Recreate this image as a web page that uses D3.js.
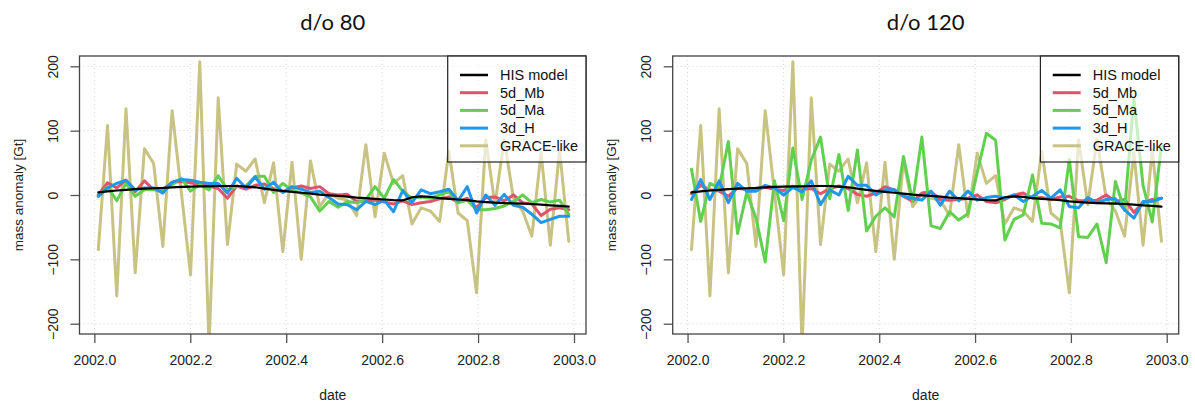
<!DOCTYPE html>
<html>
<head>
<meta charset="utf-8">
<script src="https://cdn.jsdelivr.net/npm/d3@7"></script>
<style>
  html, body { margin: 0; padding: 0; background: #fff; }
  svg { display: block; }
  text { font-family: "Liberation Sans", Arial, sans-serif; }
</style>
</head>
<body>
<svg id="chart" width="1195" height="403"></svg>
<script>
// Weekly sample index (52 weeks of 2002); dates are decimal years
const weeks = d3.range(52);
const dates = weeks.map(i => 2002 + (3 + 7.02 * i) / 365);

// Shared series: reference model and GRACE-like solution
const hisModel = [4, 5.5, 7, 8, 9, 10, 10.5, 11, 12, 12.5, 13, 13.5, 13.5, 14, 14, 14, 13, 12, 10, 8,
  6.5, 5, 3.5, 2, 0.5, -0.5, -1.5, -2.5, -4, -5, -6, -7, -8, -8.5, -3.5, -2, -3, -5, -6, -7,
  -8, -10, -11, -12, -12.5, -13, -13.5, -14, -15, -16, -17, -18];
const graceLike = [-85, 108, -157, 134, -121, 72, 49, -80, 131, 4, -124, 207, -235, 151, -77, 48, 37, 56, -12, 50,
  -88, 51, -100, 53, -18, 2, -5, -8, -32, 78, -34, 65, 18, 30, -45, -20, -25, -41, 68, -28,
  -40, -152, 86, -15, 86, -5, -25, -64, 66, -78, 70, -72];

// d/o 80 solutions
const mb80 = [0, 19, 11, 23, 5, 22, 8, 8, 20, 21, 19, 16, 14, 10, -5, 14, 9, 15, 17, 10,
  5, 11, 14, 10, 13, 2, 0, 1, -10, -9, -8, -11, -14, -9, -15, -12, -10, -6, -3, -11,
  -5, -20, -4, -3, -9, 0, -12, -14, -32, -22, -20, -23];
const ma80 = [-2, 13, -9, 18, -2, 8, 9, 6, 16, 26, 6, 16, 8, 30, 8, 13, 14, 29, 29, 4,
  18, 7, 3, -3, -25, -10, -19, -10, -12, -7, 13, -5, 24, 6, -5, -3, -5, 0, 5, -12,
  -8, -23, -23, -21, -17, -10, 0, -12, -7, -11, -8, -30];
const h80 = [-2, 11, 18, 23, 8, 11, 11, 3, 20, 24, 23, 20, 18, 18, 3, 26, 11, 28, 9, 20,
  4, 13, 9, 4, 6, -4, -14, -15, -23, -10, -15, -8, -26, 7, -12, 8, 2, 5, 9, -9,
  13, -28, 0, -16, 1, -16, -19, -30, -43, -38, -33, -33];

// d/o 120 solutions
const mb120 = [2, 15, 8, 6, -2, 11, 8, 9, 12, 9, 7, 13, 9, 10, 2, 10, 14, 10, 1, -2,
  3, 13, 8, -2, -10, 3, 5, -7, -8, -7, -5, 0, -10, -12, -7, 0, 3, -5, -4, -7,
  -3, -2, -9, -9, -8, 0, -10, -7, -27, -12, -7, -5];
const ma120 = [40, -41, 18, 11, 83, -60, 4, -36, -104, 22, -40, 73, -7, 54, 90, -6, 63, -24, 70, -56,
  -33, -20, -34, 60, -10, 90, -48, -52, -26, -39, -29, 35, 96, 85, -70, -38, -31, 31, -44, -45,
  -51, 55, -65, -66, -45, -105, 21, -24, 150, 15, -42, 77];
const h120 = [-7, 24, -7, 22, -12, 18, 6, 6, 15, 11, 0, 12, 5, 22, -15, 8, 0, 29, 15, 15,
  0, 8, 8, -2, -5, -8, 6, -16, 6, -9, 6, -8, -4, -2, -5, 0, -10, -2, 7, -5,
  8, -18, -20, -4, -12, -7, -6, -23, -36, -10, -10, -5];

const xTicks = [2002.0, 2002.2, 2002.4, 2002.6, 2002.8, 2003.0];
const yTicks = [-200, -100, 0, 100, 200];
const seriesNames = ["HIS model", "5d_Mb", "5d_Ma", "3d_H", "GRACE-like"];
const seriesColors = ["#000000", "#DF536B", "#61D04F", "#2297E6", "#C8C382"];
const panelTitles = ["d/o 80", "d/o 120"];

const panels = [
  { title: panelTitles[0], left: 79.5, right: 586, series: [hisModel, mb80, ma80, h80, graceLike] },
  { title: panelTitles[1], left: 672.7, right: 1178.7, series: [hisModel, mb120, ma120, h120, graceLike] }
];

const svg = d3.select("#chart");
const plotTop = 56, plotBottom = 334;

panels.forEach((p, pi) => {
  const g = svg.append("g");
  const x = d3.scaleLinear().domain([2001.969, 2003.025]).range([p.left, p.right]);
  const y = d3.scaleLinear().domain([-216, 216]).range([plotBottom, plotTop]);
  const cx = (p.left + p.right) / 2;

  // dotted grid
  g.append("g").selectAll("line").data(xTicks).join("line")
    .attr("x1", d => x(d)).attr("x2", d => x(d)).attr("y1", plotTop).attr("y2", plotBottom)
    .attr("stroke", "#d3d3d3").attr("stroke-width", 1).attr("stroke-dasharray", "1,3");
  g.append("g").selectAll("line").data(yTicks).join("line")
    .attr("y1", d => y(d)).attr("y2", d => y(d)).attr("x1", p.left).attr("x2", p.right)
    .attr("stroke", "#d3d3d3").attr("stroke-width", 1).attr("stroke-dasharray", "1,3");

  // clip region for the data lines
  const clipId = "clip" + pi;
  svg.append("defs").append("clipPath").attr("id", clipId)
    .append("rect").attr("x", p.left).attr("y", plotTop)
    .attr("width", p.right - p.left).attr("height", plotBottom - plotTop);

  const line = d3.line().x((d, i) => x(dates[i])).y(d => y(d));
  const lines = g.append("g").attr("clip-path", `url(#${clipId})`);
  // draw order: GRACE-like, 5d_Mb, 5d_Ma, 3d_H, HIS model
  [4, 1, 2, 3, 0].forEach(k => {
    lines.append("path").datum(p.series[k])
      .attr("d", line)
      .attr("fill", "none")
      .attr("stroke", seriesColors[k])
      .attr("stroke-width", k === 0 ? 2.2 : 3)
      .attr("stroke-linejoin", "round")
      .attr("stroke-linecap", "round");
  });

  // x axis
  const xAxis = d3.axisBottom(x).tickValues(xTicks).tickFormat(d3.format(".1f")).tickSize(9).tickPadding(12);
  const gx = g.append("g").attr("transform", `translate(0,${plotBottom})`).call(xAxis);
  gx.select(".domain").remove();
  gx.selectAll(".tick line").attr("stroke", "#555").attr("stroke-width", 1.3);
  gx.selectAll(".tick text").attr("font-size", 14).attr("fill", "#222")
    .attr("font-family", "Liberation Sans, Arial, sans-serif");

  // y axis with rotated labels
  const yAxis = d3.axisLeft(y).tickValues(yTicks).tickFormat(d3.format("d")).tickSize(9).tickPadding(0);
  const gy = g.append("g").attr("transform", `translate(${p.left},0)`).call(yAxis);
  gy.select(".domain").remove();
  gy.selectAll(".tick line").attr("stroke", "#555").attr("stroke-width", 1.3);
  gy.selectAll(".tick text")
    .attr("x", null).attr("dy", null)
    .attr("transform", "translate(-27,0) rotate(-90)")
    .attr("text-anchor", "middle").attr("dominant-baseline", "central")
    .attr("font-size", 14).attr("fill", "#222")
    .attr("font-family", "Liberation Sans, Arial, sans-serif");

  // plot frame
  g.append("rect").attr("x", p.left).attr("y", plotTop)
    .attr("width", p.right - p.left).attr("height", plotBottom - plotTop)
    .attr("fill", "none").attr("stroke", "#444").attr("stroke-width", 1.3);

  // titles
  g.append("text").attr("x", cx).attr("y", 21).attr("text-anchor", "middle")
    .attr("dominant-baseline", "central").attr("font-size", 22)
    .style("font-family", "Lato, 'Open Sans', sans-serif").attr("fill", "#111").text(p.title);
  g.append("text").attr("x", cx).attr("y", 395).attr("text-anchor", "middle")
    .attr("dominant-baseline", "central").attr("font-size", 14).attr("fill", "#222").text("date");
  g.append("text").attr("transform", `translate(${p.left - 61},${(plotTop + plotBottom) / 2}) rotate(-90)`)
    .attr("text-anchor", "middle").attr("dominant-baseline", "central")
    .attr("font-size", 13.5).attr("fill", "#222").text("mass anomaly [Gt]");

  // legend
  const lw = 138.3, lh = 106;
  const lg = g.append("g").attr("transform", `translate(${p.right - lw},${plotTop})`);
  lg.append("rect").attr("width", lw).attr("height", lh)
    .attr("fill", "rgba(255,255,255,0.65)").attr("stroke", "#222").attr("stroke-width", 1.2);
  seriesNames.forEach((name, k) => {
    const ry = 19 + k * 17.7;
    lg.append("line").attr("x1", 12.3).attr("x2", 40.3).attr("y1", ry).attr("y2", ry)
      .attr("stroke", seriesColors[k]).attr("stroke-width", k === 0 ? 2.5 : 3);
    lg.append("text").attr("x", 52.3).attr("y", ry).attr("dominant-baseline", "central")
      .attr("font-size", 14.5).attr("fill", "#111").text(name);
  });
});
</script>
</body>
</html>
